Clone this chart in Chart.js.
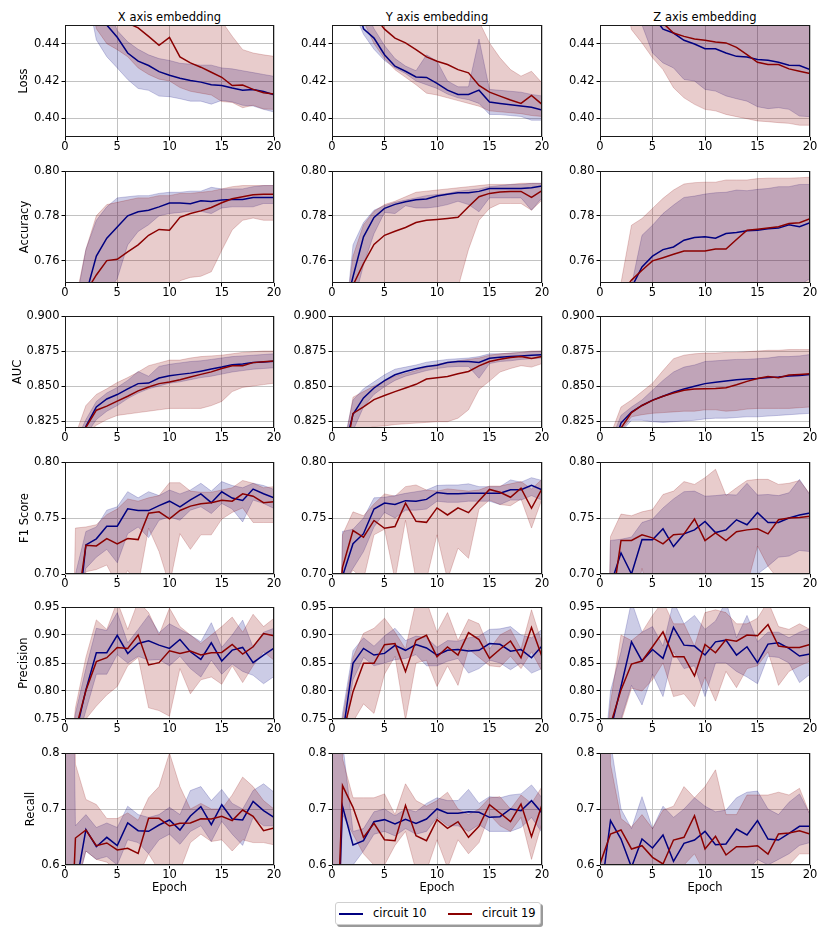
<!DOCTYPE html>
<html>
<head>
<meta charset="utf-8">
<script src="https://cdn.jsdelivr.net/npm/chart.js@4.4.1/dist/chart.umd.min.js"></script>
<style>
  body { margin: 0; background: #fff; font-family: 'DejaVu Sans', sans-serif; }
  #fig { position: relative; width: 830px; height: 934px; overflow: hidden; }
  #fig canvas { position: absolute; }
  .coltitle { position: absolute; top: 10px; height: 14px; line-height: 14px; font-size: 11.5px; text-align: center; color: #000; }
  #legend { position: absolute; left: 335px; top: 902px; width: 204px; height: 21px; border: 1px solid #cfcfcf; border-radius: 3px; box-shadow: 2px 2px 0 #9a9a9a; background: #fff; }
  #legend .ls { position: absolute; top: 10px; width: 24px; height: 1.6px; }
  #legend .lt { position: absolute; top: 3px; font-size: 11.5px; line-height: 14px; color: #000; }
</style>
</head>
<body>
<div id="fig">
  <div class="coltitle" style="left:65px;width:209px">X axis embedding</div>
  <div class="coltitle" style="left:332px;width:210px">Y axis embedding</div>
  <div class="coltitle" style="left:600px;width:210px">Z axis embedding</div>
  <div id="legend">
    <span class="ls" style="left:3px;background:#000080"></span><span class="lt" style="left:37px">circuit 10</span>
    <span class="ls" style="left:112px;background:#8b0000"></span><span class="lt" style="left:146px">circuit 19</span>
  </div>
</div>
<script>
// epochs on the x axis
const epochs = [0,1,2,3,4,5,6,7,8,9,10,11,12,13,14,15,16,17,18,19,20];
const xTicks = [0, 5, 10, 15, 20];

// one row per metric
const metricNames = ['Loss', 'Accuracy', 'AUC', 'F1 Score', 'Precision', 'Recall'];
const yMins = [0.39, 0.75, 0.82, 0.70, 0.75, 0.60];
const yMaxs = [0.45, 0.80, 0.90, 0.80, 0.95, 0.80];
const lossTicks = [0.40, 0.42, 0.44];
const accTicks = [0.76, 0.78, 0.80];
const aucTicks = [0.825, 0.850, 0.875, 0.900];
const f1Ticks = [0.70, 0.75, 0.80];
const precTicks = [0.75, 0.80, 0.85, 0.90, 0.95];
const recTicks = [0.6, 0.7, 0.8];

// --- Loss ---
const lossX10   = [0.60,0.53,0.49,0.465,0.450,0.4434,0.435,0.4306,0.4283,0.425,0.4231,0.4215,0.4203,0.4194,0.418,0.4176,0.4162,0.4151,0.4155,0.4144,0.4126];
const lossX10Hi = [0.70,0.62,0.56,0.50,0.462,0.447,0.441,0.437,0.434,0.432,0.431,0.4295,0.429,0.4285,0.4285,0.427,0.4265,0.4255,0.4245,0.4235,0.4225];
const lossX10Lo = [0.55,0.50,0.47,0.442,0.433,0.427,0.4208,0.416,0.415,0.4119,0.4116,0.4105,0.4092,0.4092,0.4076,0.4096,0.4088,0.407,0.4066,0.4048,0.4034];
const lossX19   = [0.62,0.56,0.52,0.49,0.47,0.46,0.451,0.4485,0.4439,0.4391,0.4434,0.4329,0.4297,0.4274,0.4247,0.422,0.4176,0.4178,0.4155,0.4137,0.413];
const lossX19Hi = [0.75,0.68,0.62,0.58,0.55,0.52,0.50,0.49,0.48,0.475,0.47,0.465,0.46,0.457,0.455,0.452,0.444,0.4368,0.435,0.434,0.4332];
const lossX19Lo = [0.56,0.51,0.475,0.448,0.440,0.4368,0.433,0.427,0.4235,0.421,0.420,0.4165,0.4145,0.4135,0.4125,0.409,0.4085,0.4057,0.407,0.405,0.4048];
const lossY10   = [0.60,0.52,0.47,0.448,0.443,0.4341,0.4279,0.4252,0.4222,0.4219,0.4187,0.4151,0.4128,0.4128,0.4151,0.4087,0.408,0.4073,0.4066,0.4059,0.4044];
const lossY10Hi = [0.70,0.60,0.52,0.46,0.448,0.439,0.432,0.428,0.4255,0.434,0.4306,0.420,0.4169,0.4169,0.4425,0.4155,0.415,0.4145,0.414,0.4128,0.412];
const lossY10Lo = [0.55,0.49,0.458,0.445,0.437,0.431,0.427,0.424,0.420,0.418,0.416,0.413,0.411,0.410,0.408,0.4021,0.402,0.4015,0.401,0.399,0.399];
const lossY19   = [0.65,0.58,0.52,0.48,0.455,0.4478,0.443,0.4404,0.4368,0.4329,0.4306,0.4288,0.4261,0.4244,0.4176,0.414,0.4119,0.4098,0.408,0.4123,0.4075];
const lossY19Hi = [0.80,0.72,0.65,0.60,0.56,0.53,0.51,0.50,0.49,0.48,0.475,0.47,0.465,0.46,0.452,0.4404,0.4324,0.4261,0.4226,0.4252,0.419];
const lossY19Lo = [0.56,0.50,0.47,0.452,0.440,0.432,0.426,0.422,0.418,0.4135,0.4125,0.411,0.4095,0.408,0.4065,0.404,0.4035,0.403,0.4025,0.4015,0.401];
const lossZ10   = [0.60,0.55,0.51,0.48,0.465,0.455,0.4478,0.4457,0.4418,0.4398,0.4373,0.4373,0.435,0.4332,0.4329,0.4315,0.4311,0.430,0.4284,0.4283,0.4261];
const lossZ10Hi = [0.75,0.70,0.66,0.62,0.60,0.58,0.56,0.55,0.54,0.53,0.52,0.515,0.51,0.505,0.50,0.495,0.49,0.49,0.485,0.48,0.48];
const lossZ10Lo = [0.55,0.52,0.49,0.46,0.450,0.435,0.4297,0.427,0.4208,0.420,0.4155,0.4146,0.412,0.4105,0.4092,0.4062,0.4052,0.4057,0.4048,0.4012,0.4009];
const lossZ19   = [0.62,0.56,0.52,0.49,0.47,0.458,0.451,0.4457,0.4439,0.4425,0.4418,0.4409,0.4404,0.438,0.4341,0.430,0.4288,0.4288,0.4265,0.4252,0.424];
const lossZ19Hi = [0.80,0.75,0.70,0.66,0.63,0.60,0.58,0.57,0.56,0.55,0.54,0.535,0.53,0.525,0.52,0.515,0.51,0.51,0.505,0.50,0.50];
const lossZ19Lo = [0.52,0.49,0.472,0.4475,0.4404,0.4324,0.4261,0.4164,0.411,0.4075,0.4048,0.404,0.4021,0.4009,0.3998,0.3986,0.3982,0.3977,0.3973,0.3963,0.3963];

// --- Accuracy ---
const accX10   = [0.70,0.72,0.745,0.762,0.770,0.775,0.780,0.7818,0.7825,0.784,0.7857,0.7857,0.7854,0.7867,0.7864,0.787,0.7873,0.7873,0.7882,0.7882,0.7882];
const accX10Hi = [0.72,0.74,0.765,0.778,0.784,0.788,0.7885,0.789,0.789,0.790,0.7905,0.7905,0.791,0.791,0.7927,0.792,0.792,0.792,0.793,0.7935,0.7935];
const accX10Lo = [0.68,0.70,0.72,0.735,0.745,0.752,0.767,0.773,0.776,0.780,0.781,0.7815,0.782,0.782,0.781,0.7835,0.784,0.784,0.784,0.7855,0.7855];
const accX19   = [0.70,0.725,0.746,0.7536,0.760,0.7606,0.7639,0.767,0.7713,0.7739,0.7736,0.7793,0.781,0.7822,0.7837,0.7858,0.7876,0.7885,0.7894,0.7896,0.7896];
const accX19Hi = [0.72,0.742,0.765,0.780,0.785,0.786,0.787,0.788,0.788,0.789,0.789,0.790,0.790,0.7905,0.791,0.792,0.793,0.7935,0.7935,0.7935,0.7935];
const accX19Lo = [0.66,0.68,0.70,0.71,0.715,0.72,0.725,0.73,0.735,0.74,0.746,0.751,0.7525,0.753,0.755,0.7646,0.7737,0.778,0.779,0.778,0.778];
const accY10   = [0.70,0.734,0.7528,0.7706,0.7793,0.7833,0.7851,0.7863,0.7872,0.7875,0.7888,0.7896,0.7903,0.7903,0.7909,0.7922,0.7922,0.7922,0.7922,0.7925,0.7933];
const accY10Hi = [0.70,0.72,0.767,0.777,0.7825,0.7845,0.786,0.787,0.788,0.789,0.7895,0.790,0.791,0.7915,0.792,0.793,0.7935,0.794,0.794,0.7945,0.7945];
const accY10Lo = [0.68,0.70,0.74,0.758,0.772,0.7815,0.781,0.7845,0.7835,0.7835,0.784,0.785,0.7865,0.785,0.7818,0.788,0.788,0.788,0.788,0.7825,0.788];
const accY19   = [0.69,0.72,0.749,0.7587,0.7672,0.7713,0.7731,0.7748,0.777,0.778,0.7784,0.7788,0.7793,0.784,0.7885,0.790,0.7906,0.7909,0.7909,0.7882,0.7912];
const accY19Hi = [0.70,0.725,0.762,0.776,0.782,0.785,0.7865,0.7885,0.7905,0.791,0.7915,0.792,0.7925,0.793,0.7935,0.794,0.794,0.794,0.7945,0.7945,0.7945];
const accY19Lo = [0.66,0.68,0.70,0.71,0.715,0.72,0.725,0.73,0.733,0.736,0.739,0.742,0.748,0.765,0.778,0.7833,0.7855,0.7855,0.7855,0.7825,0.787];
const accZ10   = [0.70,0.72,0.735,0.748,0.7572,0.762,0.7649,0.7661,0.7691,0.7703,0.7706,0.770,0.7721,0.7725,0.7733,0.7736,0.7742,0.7745,0.776,0.7751,0.7769];
const accZ10Hi = [0.70,0.72,0.735,0.749,0.7713,0.7758,0.781,0.7848,0.7882,0.7888,0.7897,0.7903,0.7905,0.7915,0.7912,0.7918,0.7922,0.793,0.793,0.794,0.794];
const accZ10Lo = [0.65,0.66,0.67,0.68,0.69,0.70,0.71,0.715,0.72,0.725,0.728,0.73,0.733,0.735,0.738,0.74,0.742,0.744,0.746,0.749,0.752];
const accZ19   = [0.70,0.72,0.745,0.7513,0.7557,0.7599,0.7613,0.7628,0.7643,0.7643,0.7643,0.7652,0.7652,0.7694,0.7736,0.774,0.7745,0.7751,0.7766,0.7769,0.7787];
const accZ19Hi = [0.70,0.72,0.75,0.7758,0.7788,0.7833,0.7878,0.7915,0.7942,0.7948,0.795,0.795,0.796,0.796,0.796,0.7966,0.7968,0.7968,0.7968,0.797,0.7972];
const accZ19Lo = [0.64,0.65,0.66,0.67,0.68,0.69,0.70,0.705,0.71,0.715,0.72,0.72,0.722,0.725,0.727,0.73,0.73,0.732,0.733,0.735,0.736];

// --- AUC ---
const aucX10   = [0.77,0.80,0.8212,0.835,0.8407,0.8439,0.8479,0.8517,0.8521,0.8557,0.8573,0.8583,0.8592,0.8606,0.8621,0.8635,0.8651,0.8658,0.8667,0.8672,0.8677];
const aucX10Hi = [0.78,0.81,0.826,0.839,0.845,0.849,0.854,0.8604,0.857,0.864,0.8655,0.8665,0.8675,0.868,0.869,0.870,0.871,0.8715,0.872,0.8725,0.873];
const aucX10Lo = [0.75,0.79,0.815,0.826,0.832,0.836,0.841,0.845,0.848,0.850,0.852,0.853,0.8545,0.856,0.857,0.8585,0.860,0.861,0.862,0.8625,0.863];
const aucX19   = [0.77,0.80,0.8205,0.8327,0.8356,0.8392,0.8427,0.8465,0.8493,0.8517,0.8528,0.8545,0.8564,0.8583,0.8601,0.8625,0.8644,0.8644,0.8667,0.8674,0.8679];
const aucX19Hi = [0.78,0.815,0.836,0.844,0.848,0.8525,0.856,0.860,0.8645,0.8665,0.8685,0.8685,0.870,0.871,0.8715,0.872,0.873,0.874,0.8745,0.875,0.875];
const aucX19Lo = [0.75,0.79,0.815,0.822,0.826,0.829,0.830,0.831,0.832,0.833,0.834,0.834,0.834,0.834,0.836,0.839,0.846,0.849,0.850,0.851,0.852];
const aucY10   = [0.77,0.80,0.8297,0.8415,0.8486,0.8538,0.858,0.8604,0.8623,0.864,0.8649,0.8668,0.8675,0.8675,0.8668,0.8698,0.8705,0.871,0.8715,0.8719,0.8724];
const aucY10Hi = [0.78,0.805,0.840,0.848,0.853,0.858,0.862,0.8635,0.865,0.867,0.868,0.869,0.8695,0.870,0.871,0.873,0.873,0.8735,0.874,0.8745,0.875];
const aucY10Lo = [0.76,0.79,0.818,0.835,0.844,0.8495,0.854,0.857,0.859,0.861,0.8625,0.8635,0.864,0.864,0.8555,0.866,0.8675,0.868,0.869,0.8695,0.870];
const aucY19   = [0.76,0.79,0.8304,0.8351,0.8403,0.8432,0.846,0.8486,0.8512,0.855,0.8559,0.8568,0.8587,0.8604,0.8644,0.8675,0.8691,0.8703,0.871,0.8696,0.871];
const aucY19Hi = [0.77,0.80,0.842,0.846,0.850,0.8535,0.857,0.859,0.861,0.8635,0.8655,0.867,0.868,0.869,0.870,0.872,0.873,0.8735,0.874,0.875,0.875];
const aucY19Lo = [0.75,0.78,0.818,0.819,0.821,0.8215,0.8225,0.823,0.8235,0.824,0.8245,0.8245,0.827,0.833,0.8475,0.8535,0.860,0.8625,0.8645,0.8635,0.866];
const aucZ10   = [0.77,0.80,0.8235,0.8314,0.8361,0.8399,0.8427,0.8455,0.8479,0.8498,0.8517,0.8526,0.8535,0.8545,0.855,0.8554,0.8561,0.8564,0.8571,0.8575,0.8583];
const aucZ10Hi = [0.78,0.81,0.829,0.835,0.840,0.847,0.854,0.860,0.8635,0.865,0.8675,0.868,0.8685,0.869,0.869,0.8695,0.870,0.871,0.871,0.8715,0.8725];
const aucZ10Lo = [0.76,0.79,0.817,0.8255,0.8255,0.8245,0.824,0.8245,0.825,0.8255,0.8265,0.827,0.827,0.8275,0.828,0.828,0.8285,0.829,0.8295,0.830,0.8305];
const aucZ19   = [0.77,0.80,0.820,0.831,0.8361,0.8397,0.8427,0.845,0.847,0.8479,0.8481,0.8483,0.8488,0.8509,0.8533,0.8554,0.8568,0.8559,0.8578,0.8583,0.8587];
const aucZ19Hi = [0.78,0.815,0.835,0.840,0.846,0.852,0.861,0.8695,0.872,0.873,0.8735,0.8735,0.874,0.874,0.8745,0.875,0.8755,0.8755,0.876,0.876,0.876];
const aucZ19Lo = [0.76,0.79,0.818,0.828,0.8295,0.8305,0.831,0.8315,0.832,0.832,0.833,0.833,0.832,0.8325,0.8335,0.834,0.834,0.834,0.834,0.8345,0.835];

// --- F1 score ---
const f1X10   = [0.60,0.64,0.726,0.7314,0.7427,0.7427,0.7582,0.7566,0.7566,0.761,0.765,0.760,0.7661,0.7716,0.7637,0.7734,0.7678,0.7657,0.7758,0.7716,0.768];
const f1X10Hi = [0.66,0.70,0.738,0.742,0.757,0.760,0.7735,0.768,0.7735,0.770,0.775,0.7715,0.775,0.781,0.774,0.7825,0.779,0.777,0.781,0.779,0.7755];
const f1X10Lo = [0.60,0.66,0.705,0.715,0.722,0.710,0.736,0.742,0.7325,0.748,0.751,0.748,0.757,0.760,0.754,0.763,0.758,0.7465,0.766,0.763,0.7585];
const f1X19   = [0.60,0.66,0.7257,0.7251,0.7316,0.7269,0.7316,0.7307,0.7543,0.7555,0.7493,0.7567,0.7606,0.7627,0.7637,0.7658,0.765,0.7716,0.7695,0.7637,0.7646];
const f1X19Hi = [0.30,0.741,0.742,0.744,0.753,0.758,0.767,0.765,0.768,0.770,0.7815,0.7815,0.774,0.773,0.773,0.775,0.777,0.7835,0.781,0.777,0.778];
const f1X19Lo = [0.30,0.62,0.702,0.704,0.708,0.69,0.703,0.69,0.741,0.72,0.69,0.736,0.722,0.735,0.735,0.749,0.755,0.759,0.746,0.746,0.746];
const f1Y10   = [0.62,0.698,0.727,0.736,0.758,0.7633,0.762,0.7655,0.765,0.7666,0.7728,0.7716,0.7716,0.7722,0.7722,0.7722,0.7722,0.7752,0.7752,0.7791,0.7752];
const f1Y10Hi = [0.30,0.738,0.74,0.750,0.768,0.7685,0.770,0.772,0.7735,0.775,0.779,0.7795,0.7795,0.7805,0.778,0.778,0.778,0.784,0.782,0.786,0.7835];
const f1Y10Lo = [0.30,0.69,0.705,0.72,0.742,0.755,0.750,0.757,0.757,0.758,0.765,0.764,0.764,0.765,0.765,0.765,0.762,0.766,0.766,0.770,0.766];
const f1Y19   = [0.60,0.706,0.7388,0.7328,0.7478,0.7408,0.7424,0.7632,0.747,0.7461,0.759,0.7527,0.759,0.7548,0.7655,0.7755,0.773,0.7685,0.7767,0.7587,0.7761];
const f1Y19Hi = [0.30,0.735,0.7555,0.752,0.7625,0.7715,0.7695,0.778,0.7795,0.775,0.774,0.776,0.775,0.774,0.775,0.7785,0.7785,0.7805,0.7825,0.776,0.7845];
const f1Y19Lo = [0.30,0.69,0.7035,0.695,0.735,0.74,0.695,0.748,0.695,0.695,0.735,0.695,0.723,0.714,0.758,0.766,0.762,0.761,0.767,0.741,0.767];
const f1Z10   = [0.60,0.69,0.7188,0.70,0.7308,0.7305,0.7404,0.7245,0.7358,0.7394,0.7469,0.737,0.7394,0.7484,0.744,0.7548,0.746,0.746,0.750,0.7527,0.7545];
const f1Z10Hi = [0.30,0.730,0.731,0.733,0.746,0.749,0.759,0.767,0.7735,0.774,0.7695,0.770,0.771,0.7705,0.781,0.7705,0.771,0.770,0.7725,0.7845,0.7705];
const f1Z10Lo = [0.30,0.65,0.66,0.66,0.665,0.67,0.67,0.675,0.675,0.68,0.68,0.68,0.685,0.685,0.69,0.70,0.707,0.715,0.716,0.721,0.72];
const f1Z19   = [0.60,0.664,0.7299,0.7299,0.735,0.7323,0.7269,0.735,0.7358,0.7491,0.7299,0.7366,0.7299,0.7378,0.7394,0.7404,0.7358,0.7485,0.750,0.7505,0.7516];
const f1Z19Hi = [0.30,0.7335,0.7535,0.752,0.7555,0.7575,0.771,0.774,0.7825,0.780,0.786,0.7935,0.770,0.777,0.7835,0.7845,0.7845,0.780,0.781,0.7835,0.7715];
const f1Z19Lo = [0.30,0.65,0.66,0.66,0.705,0.67,0.67,0.675,0.675,0.68,0.68,0.68,0.685,0.685,0.69,0.725,0.707,0.695,0.695,0.695,0.70];

// --- Precision ---
const precX10   = [0.55,0.722,0.802,0.8683,0.8683,0.8994,0.867,0.8849,0.8896,0.8819,0.876,0.892,0.870,0.8565,0.8861,0.8536,0.873,0.8778,0.8506,0.8642,0.8766];
const precX10Hi = [0.60,0.76,0.84,0.912,0.908,0.94,0.886,0.91,0.935,0.904,0.92,0.91,0.90,0.888,0.922,0.878,0.90,0.9265,0.878,0.905,0.912];
const precX10Lo = [0.50,0.70,0.765,0.83,0.83,0.865,0.85,0.862,0.855,0.856,0.845,0.862,0.84,0.825,0.855,0.83,0.848,0.835,0.828,0.813,0.826];
const precX19   = [0.55,0.73,0.801,0.8524,0.8595,0.8778,0.876,0.90,0.8465,0.8506,0.8719,0.8671,0.8713,0.8642,0.8683,0.8689,0.8831,0.866,0.879,0.9027,0.8985];
const precX19Hi = [0.60,0.77,0.86,0.927,0.91,0.96,0.91,0.96,0.94,0.90,0.948,0.915,0.90,0.885,0.90,0.915,0.932,0.905,0.937,0.915,0.93];
const precX19Lo = [0.50,0.70,0.75,0.773,0.793,0.808,0.845,0.86,0.77,0.765,0.755,0.84,0.795,0.82,0.825,0.812,0.845,0.815,0.845,0.87,0.855];
const precY10   = [0.55,0.72,0.8494,0.876,0.8642,0.8672,0.8816,0.8727,0.8828,0.8769,0.8642,0.8727,0.8739,0.8716,0.8727,0.8846,0.8834,0.871,0.8739,0.8593,0.8804];
const precY10Hi = [0.60,0.76,0.872,0.895,0.88,0.898,0.912,0.89,0.898,0.895,0.878,0.89,0.889,0.895,0.898,0.91,0.911,0.915,0.90,0.895,0.91];
const precY10Lo = [0.50,0.70,0.82,0.86,0.845,0.85,0.856,0.858,0.865,0.845,0.845,0.853,0.858,0.832,0.84,0.855,0.85,0.838,0.85,0.832,0.84];
const precY19   = [0.55,0.72,0.7988,0.8494,0.8494,0.8828,0.8846,0.8346,0.8905,0.8994,0.861,0.8787,0.8642,0.9041,0.8917,0.8583,0.8746,0.8893,0.8593,0.9133,0.861];
const precY19Hi = [0.60,0.75,0.86,0.903,0.912,0.93,0.905,0.875,0.96,0.96,0.905,0.94,0.89,0.928,0.92,0.875,0.90,0.91,0.875,0.945,0.885];
const precY19Lo = [0.50,0.70,0.745,0.777,0.76,0.83,0.862,0.748,0.85,0.855,0.808,0.845,0.81,0.875,0.86,0.845,0.843,0.862,0.84,0.87,0.835];
const precZ10   = [0.55,0.73,0.808,0.8878,0.8536,0.8742,0.8583,0.9136,0.8819,0.8802,0.8642,0.8878,0.8908,0.8642,0.879,0.8506,0.8837,0.8861,0.876,0.8624,0.866];
const precZ10Hi = [0.60,0.80,0.87,0.96,0.905,0.915,0.88,0.96,0.92,0.935,0.91,0.925,0.96,0.895,0.935,0.888,0.905,0.905,0.895,0.905,0.911];
const precZ10Lo = [0.50,0.70,0.75,0.81,0.775,0.83,0.79,0.87,0.84,0.845,0.79,0.85,0.85,0.835,0.825,0.813,0.862,0.86,0.85,0.815,0.83];
const precZ19   = [0.55,0.74,0.802,0.8482,0.8536,0.879,0.9056,0.8612,0.8612,0.8269,0.8831,0.8683,0.892,0.889,0.90,0.8985,0.9186,0.8802,0.8778,0.8778,0.8831];
const precZ19Hi = [0.60,0.78,0.90,0.89,0.905,0.935,0.96,0.92,0.92,0.88,0.94,0.945,0.94,0.92,0.92,0.93,0.96,0.915,0.91,0.92,0.91];
const precZ19Lo = [0.50,0.71,0.745,0.805,0.80,0.82,0.85,0.79,0.795,0.772,0.825,0.782,0.835,0.806,0.84,0.845,0.87,0.81,0.835,0.845,0.853];

// --- Recall ---
const recX10   = [0.40,0.558,0.6631,0.6327,0.6494,0.6345,0.675,0.6613,0.6601,0.6714,0.6804,0.6625,0.6875,0.7042,0.672,0.7077,0.6821,0.6804,0.7137,0.697,0.6851];
const recX10Hi = [2.0,0.670,0.69,0.667,0.675,0.667,0.705,0.69,0.685,0.69,0.703,0.69,0.733,0.74,0.715,0.735,0.71,0.70,0.733,0.745,0.73];
const recX10Lo = [0.0,0.55,0.625,0.61,0.615,0.60,0.645,0.64,0.62,0.645,0.655,0.637,0.66,0.67,0.642,0.678,0.655,0.635,0.685,0.67,0.67];
const recX19   = [0.20,0.6482,0.6625,0.6345,0.6393,0.6268,0.6298,0.6208,0.6833,0.6833,0.6696,0.6744,0.675,0.6827,0.6821,0.6869,0.6792,0.6982,0.6869,0.6613,0.666];
const recX19Hi = [2.0,0.78,0.717,0.708,0.683,0.683,0.693,0.68,0.72,0.74,0.80,0.74,0.70,0.71,0.70,0.70,0.725,0.757,0.74,0.715,0.70];
const recX19Lo = [0.0,0.555,0.625,0.61,0.605,0.59,0.585,0.58,0.62,0.59,0.59,0.59,0.64,0.655,0.642,0.645,0.625,0.645,0.64,0.64,0.636];
const recY10   = [0.20,0.7048,0.6357,0.6435,0.6774,0.681,0.6732,0.6815,0.6744,0.6821,0.70,0.6923,0.6923,0.6952,0.694,0.6851,0.6863,0.70,0.697,0.7149,0.6929];
const recY10Hi = [2.0,0.82,0.66,0.665,0.695,0.70,0.688,0.70,0.695,0.71,0.72,0.715,0.715,0.735,0.71,0.722,0.72,0.725,0.727,0.743,0.72];
const recY10Lo = [0.0,0.58,0.60,0.625,0.655,0.66,0.652,0.665,0.655,0.66,0.685,0.67,0.67,0.66,0.672,0.66,0.66,0.66,0.667,0.685,0.658];
const recY19   = [0.20,0.7417,0.703,0.6494,0.6744,0.6452,0.6435,0.7065,0.6524,0.6435,0.681,0.6655,0.6774,0.6494,0.669,0.7077,0.6929,0.6774,0.7089,0.6506,0.7077];
const recY19Hi = [2.0,0.79,0.72,0.72,0.72,0.727,0.69,0.745,0.715,0.705,0.715,0.73,0.70,0.69,0.70,0.72,0.722,0.70,0.725,0.71,0.74];
const recY19Lo = [0.0,0.69,0.655,0.62,0.60,0.60,0.635,0.66,0.59,0.59,0.645,0.595,0.645,0.62,0.64,0.69,0.67,0.66,0.685,0.61,0.675];
const recZ10   = [0.535,0.6792,0.6464,0.596,0.6464,0.6304,0.6536,0.6065,0.6387,0.6446,0.6601,0.6363,0.6375,0.6643,0.6536,0.6792,0.6464,0.6446,0.6565,0.669,0.669];
const recZ10Hi = [2.0,0.82,0.70,0.665,0.722,0.665,0.705,0.685,0.70,0.72,0.705,0.695,0.698,0.72,0.73,0.732,0.70,0.69,0.712,0.727,0.69];
const recZ10Lo = [0.0,0.55,0.57,0.55,0.57,0.58,0.59,0.57,0.59,0.58,0.59,0.58,0.57,0.58,0.59,0.61,0.60,0.61,0.62,0.635,0.64];
const recZ19   = [0.602,0.6554,0.6625,0.6286,0.6345,0.6137,0.6018,0.6446,0.6494,0.6881,0.6286,0.6512,0.6179,0.6327,0.6327,0.6345,0.6196,0.6554,0.6571,0.6613,0.6554];
const recZ19Hi = [2.0,0.78,0.683,0.668,0.69,0.665,0.698,0.705,0.74,0.72,0.74,0.77,0.69,0.69,0.725,0.725,0.725,0.73,0.725,0.737,0.69];
const recZ19Lo = [0.0,0.55,0.59,0.58,0.58,0.57,0.57,0.58,0.60,0.62,0.585,0.585,0.57,0.575,0.58,0.56,0.58,0.60,0.60,0.62,0.62];

// grid of panels: [row][col] -> [c10, c10 lo, c10 hi, c19, c19 lo, c19 hi]
const panels = [
  [[lossX10,lossX10Lo,lossX10Hi,lossX19,lossX19Lo,lossX19Hi],[lossY10,lossY10Lo,lossY10Hi,lossY19,lossY19Lo,lossY19Hi],[lossZ10,lossZ10Lo,lossZ10Hi,lossZ19,lossZ19Lo,lossZ19Hi]],
  [[accX10,accX10Lo,accX10Hi,accX19,accX19Lo,accX19Hi],[accY10,accY10Lo,accY10Hi,accY19,accY19Lo,accY19Hi],[accZ10,accZ10Lo,accZ10Hi,accZ19,accZ19Lo,accZ19Hi]],
  [[aucX10,aucX10Lo,aucX10Hi,aucX19,aucX19Lo,aucX19Hi],[aucY10,aucY10Lo,aucY10Hi,aucY19,aucY19Lo,aucY19Hi],[aucZ10,aucZ10Lo,aucZ10Hi,aucZ19,aucZ19Lo,aucZ19Hi]],
  [[f1X10,f1X10Lo,f1X10Hi,f1X19,f1X19Lo,f1X19Hi],[f1Y10,f1Y10Lo,f1Y10Hi,f1Y19,f1Y19Lo,f1Y19Hi],[f1Z10,f1Z10Lo,f1Z10Hi,f1Z19,f1Z19Lo,f1Z19Hi]],
  [[precX10,precX10Lo,precX10Hi,precX19,precX19Lo,precX19Hi],[precY10,precY10Lo,precY10Hi,precY19,precY19Lo,precY19Hi],[precZ10,precZ10Lo,precZ10Hi,precZ19,precZ19Lo,precZ19Hi]],
  [[recX10,recX10Lo,recX10Hi,recX19,recX19Lo,recX19Hi],[recY10,recY10Lo,recY10Hi,recY19,recY19Lo,recY19Hi],[recZ10,recZ10Lo,recZ10Hi,recZ19,recZ19Lo,recZ19Hi]]
];
const tickSets = [lossTicks, accTicks, aucTicks, f1Ticks, precTicks, recTicks];
const decimals = [2, 2, 3, 2, 2, 1];

// layout (pixels)
const colLeft = [65, 332, 600];
const colWidth = [209, 210, 210];
const rowTop = [25, 171, 316, 462, 607, 753];
const plotH = 112;
const yAxisW = 65;
const padTop = 10, padRight = 14;
const yTitlePad = [17, 18, 11, 18, 17, 24];

Chart.defaults.font.family = "'DejaVu Sans', sans-serif";
Chart.defaults.font.size = 11.5;
Chart.defaults.color = '#000';

const navy = '#000080', darkred = '#8b0000';
const navyBand = 'rgba(0,0,128,0.2)', redBand = 'rgba(139,0,0,0.2)';

// axes frame drawn on top like matplotlib spines
const frame = {
  id: 'frame',
  afterDraw(chart) {
    const a = chart.chartArea, ctx = chart.ctx;
    ctx.save();
    ctx.strokeStyle = '#1a1a1a';
    ctx.lineWidth = 1;
    ctx.strokeRect(a.left + 0.5, a.top + 0.5, a.right - a.left - 1, a.bottom - a.top - 1);
    ctx.restore();
  }
};

const pts = arr => arr.map((v, i) => ({ x: epochs[i], y: v }));

const fig = document.getElementById('fig');
for (let r = 0; r < 6; r++) {
  const last = r === 5;
  const xH = last ? 40 : 24;
  for (let c = 0; c < 3; c++) {
    const [b, bLo, bHi, d, dLo, dHi] = panels[r][c];
    const cv = document.createElement('canvas');
    const w = yAxisW + colWidth[c] + padRight;
    const h = padTop + plotH + xH;
    cv.width = w; cv.height = h;
    cv.style.width = w + 'px'; cv.style.height = h + 'px';
    cv.style.left = (colLeft[c] - yAxisW) + 'px';
    cv.style.top = (rowTop[r] - padTop) + 'px';
    fig.appendChild(cv);

    new Chart(cv, {
      type: 'line',
      data: {
        datasets: [
          { data: pts(d), borderColor: darkred, borderWidth: 1.5 },
          { data: pts(b), borderColor: navy, borderWidth: 1.5 },
          { data: pts(dHi), borderColor: redBand, borderWidth: 1, backgroundColor: redBand, fill: '+1' },
          { data: pts(dLo), borderColor: redBand, borderWidth: 1 },
          { data: pts(bHi), borderColor: navyBand, borderWidth: 1, backgroundColor: navyBand, fill: '+1' },
          { data: pts(bLo), borderColor: navyBand, borderWidth: 1 }
        ]
      },
      options: {
        responsive: false,
        animation: false,
        events: [],
        layout: { padding: { top: padTop, right: padRight, left: 0, bottom: 0 } },
        elements: { point: { radius: 0 }, line: { tension: 0 } },
        plugins: { legend: { display: false }, tooltip: { enabled: false } },
        scales: {
          x: {
            type: 'linear', min: 0, max: 20,
            afterBuildTicks: s => { s.ticks = xTicks.map(v => ({ value: v })); },
            afterFit: s => { s.height = xH; },
            ticks: { padding: 0, maxRotation: 0, autoSkip: false, color: '#000' },
            grid: { color: '#c2c2c2', lineWidth: 1, tickLength: 3.5, tickColor: '#000' },
            border: { display: false },
            title: { display: last, text: 'Epoch', color: '#000', padding: { top: 0, bottom: 10 } }
          },
          y: {
            min: yMins[r], max: yMaxs[r],
            afterBuildTicks: s => { s.ticks = tickSets[r].map(v => ({ value: v })); },
            afterFit: s => { s.width = yAxisW; },
            ticks: { padding: 2, color: '#000', callback: v => Number(v).toFixed(decimals[r]) },
            grid: { color: '#c2c2c2', lineWidth: 1, tickLength: 3.5, tickColor: '#000' },
            border: { display: false },
            title: { display: c === 0, text: metricNames[r], color: '#000', padding: { top: yTitlePad[r], bottom: 0 } }
          }
        }
      },
      plugins: [frame]
    });
  }
}
</script>
</body>
</html>
